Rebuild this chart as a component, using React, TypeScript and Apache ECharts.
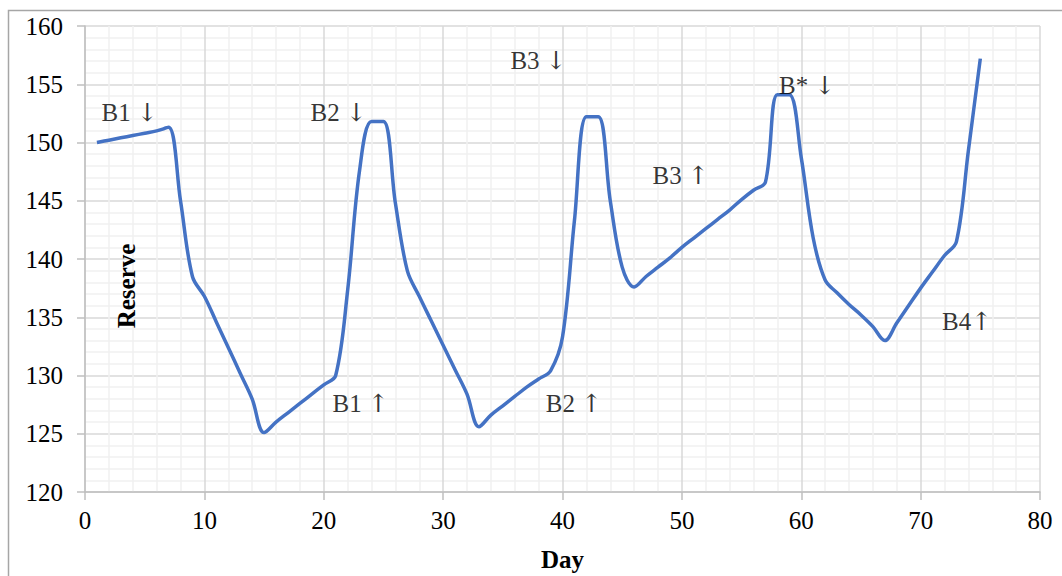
import React, { useEffect, useRef } from "react";
import * as echarts from "echarts";

const days: number[] = Array.from({ length: 75 }, (_, i) => i + 1);
const reserve: number[] = [
  150.0, 150.2, 150.4, 150.6, 150.8, 151.0, 151.3, 145.0, 138.5, 136.8,
  134.6, 132.4, 130.2, 128.0, 125.1, 126.0, 126.8, 127.6, 128.4, 129.2,
  130.0, 137.3, 147.6, 151.8, 151.8, 144.8, 139.0, 136.8, 134.7, 132.6,
  130.5, 128.4, 125.6, 126.6, 127.4, 128.2, 129.0, 129.7, 130.4, 133.3,
  143.3, 152.2, 152.2, 145.0, 139.3, 137.6, 138.5, 139.3, 140.1, 141.0,
  141.8, 142.6, 143.4, 144.2, 145.1, 145.9, 146.6, 154.1, 154.1, 148.7,
  141.8, 138.2, 137.1, 136.1, 135.2, 134.2, 133.0, 134.5, 136.0, 137.5,
  138.9, 140.3, 141.5, 149.3, 157.2,
];

const annotationText: string[] = ["B1 ↓", "B2 ↓", "B3 ↓", "B* ↓", "B1 ↑", "B2 ↑", "B3 ↑", "B4↑"];
const annotationX: number[] = [3.75, 21.25, 38.0, 60.5, 23.1, 40.96, 49.9, 73.9];
const annotationY: number[] = [152.6, 152.6, 157.0, 154.9, 127.6, 127.6, 147.2, 134.6];

const xTicks = { min: 0, max: 80, interval: 10 };
const yTicks = { min: 120, max: 160, interval: 5 };

const FONT = "'Liberation Serif', 'DejaVu Serif', 'Times New Roman', serif";
const ARROW_FONT = "'DejaVu Serif', serif";

const toRich = (t: string) =>
  t.replace(/([↓↑])/g, "{arr|$1}").replace(/^([^{]+)/, "{txt|$1}");

export default function App() {
  const ref = useRef<HTMLDivElement>(null);
  useEffect(() => {
    if (!ref.current) return;
    const chart = echarts.init(ref.current, undefined, { renderer: "svg" });
    const lineData = days.map((d, i) => [d, reserve[i]]);
    const annData = annotationText.map((t, i) => ({ value: [annotationX[i], annotationY[i]], name: t }));
    chart.setOption({
      animation: false,
      backgroundColor: "#ffffff",
      grid: { left: 85, right: 22, top: 26, bottom: 84, containLabel: false, outerBoundsMode: "none" },
      xAxis: {
        type: "value",
        min: xTicks.min,
        max: xTicks.max,
        interval: xTicks.interval,
        name: "Day",
        nameLocation: "middle",
        nameGap: 55,
        nameTextStyle: { fontFamily: FONT, fontSize: 25, fontWeight: "bold", color: "#000" },
        axisLine: { show: true, lineStyle: { color: "#bfbfbf", width: 1.5 } },
        axisTick: { show: true, length: 8, lineStyle: { color: "#bfbfbf", width: 1.5 } },
        axisLabel: { fontFamily: FONT, fontSize: 25, color: "#000", margin: 16 },
        splitLine: { show: true, lineStyle: { color: "#d9d9d9", width: 1.5 } },
        minorTick: { show: false, splitNumber: 5 },
        minorSplitLine: { show: true, lineStyle: { color: "#f0f0f0", width: 1.5 } },
      },
      yAxis: {
        type: "value",
        min: yTicks.min,
        max: yTicks.max,
        interval: yTicks.interval,
        axisLine: { show: true, lineStyle: { color: "#bfbfbf", width: 1.5 } },
        axisTick: { show: true, length: 8, lineStyle: { color: "#bfbfbf", width: 1.5 } },
        axisLabel: { fontFamily: FONT, fontSize: 25, color: "#000", margin: 22 },
        splitLine: { show: true, lineStyle: { color: "#d9d9d9", width: 1.5 } },
        minorTick: { show: false, splitNumber: 5 },
        minorSplitLine: { show: true, lineStyle: { color: "#f0f0f0", width: 1.5 } },
      },
      series: [
        {
          type: "line",
          data: lineData,
          smooth: 0.35,
          showSymbol: false,
          lineStyle: { color: "#4472c4", width: 3.5 },
          z: 3,
        },
        {
          type: "scatter",
          data: annData,
          symbolSize: 0,
          silent: true,
          z: 4,
          label: {
            show: true,
            position: "inside",
            formatter: (p: any) => toRich(p.name),
            fontFamily: FONT,
            fontSize: 25,
            color: "#000",
            rich: {
              txt: { fontFamily: FONT, fontSize: 25, color: "#000" },
              arr: { fontFamily: ARROW_FONT, fontSize: 25, color: "#000" },
            },
          },
        },
      ],
      graphic: [
        {
          type: "rect",
          shape: { x: 8.5, y: 10.5, width: 1100, height: 700 },
          style: { fill: "none", stroke: "#a6a6a6", lineWidth: 1.5 },
          silent: true,
          z: -10,
        },
        {
          type: "text",
          x: 126,
          y: 286,
          rotation: Math.PI / 2,
          style: {
            text: "Reserve",
            fontFamily: FONT,
            fontSize: 25,
            fontWeight: "bold",
            fill: "#000",
            textAlign: "center",
            textVerticalAlign: "middle",
          },
          z: 10,
        },
      ],
    });
    return () => chart.dispose();
  }, []);
  return (
    <div
      ref={ref}
      style={{ position: "fixed", left: 0, top: 0, width: 1062, height: 576 }}
    />
  );
}
